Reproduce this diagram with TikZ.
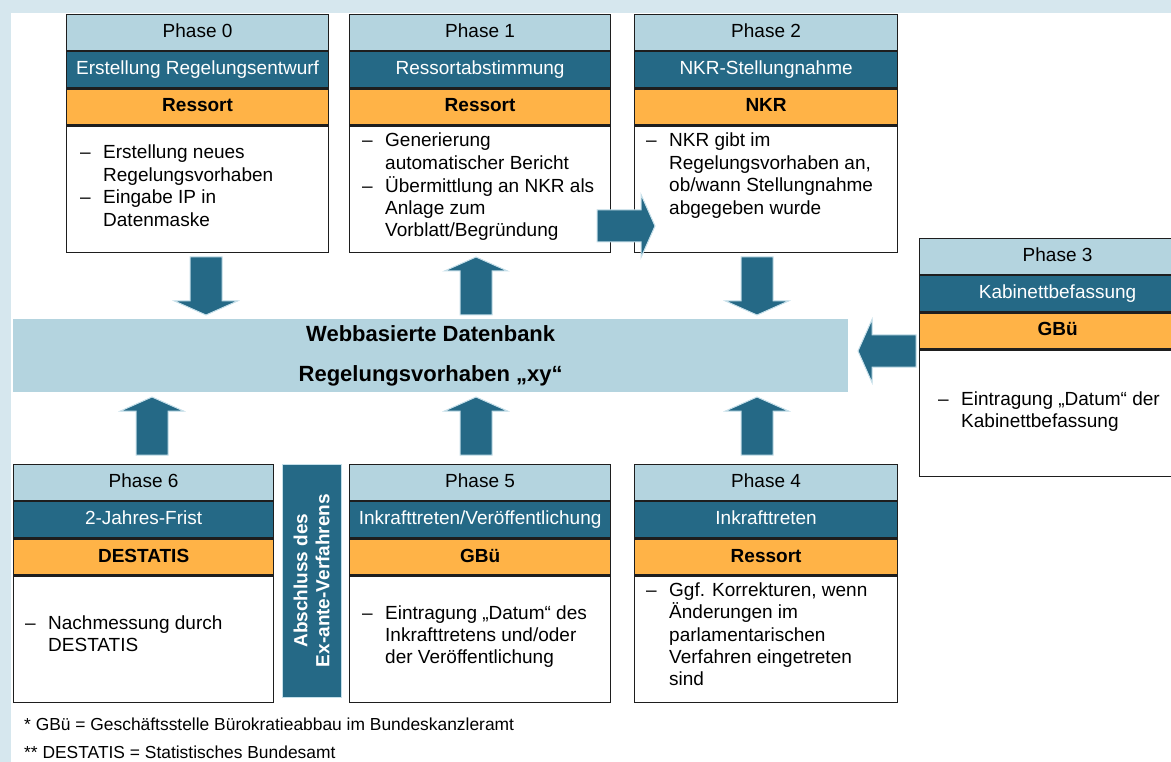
\documentclass[tikz,border=0pt]{standalone}
\usepackage{fontspec}
\setmainfont{Liberation Sans}
\definecolor{framec}{HTML}{D6E7EE}
\definecolor{hdrc}{HTML}{B4D4DF}
\definecolor{darkc}{HTML}{256986}
\definecolor{orngc}{HTML}{FFB347}
\definecolor{edgec}{HTML}{C5DFE9}
\definecolor{linec}{HTML}{1E1E1E}
\newcommand\dashitem{\makebox[23pt][l]{–}}
\newcommand\indentitem{\hspace*{23pt}}
\tikzset{
 cellbase/.style={draw=linec, line width=1.2pt, anchor=north west, inner sep=1pt, minimum height=36, text height=14, text depth=4, font=\fontsize{19}{22.4}\selectfont},
 hdrcell/.style={cellbase, fill=hdrc},
 titlecell/.style={cellbase, fill=darkc, text=white},
 rolecell/.style={cellbase, fill=orngc, font=\fontsize{19}{22.4}\selectfont\bfseries},
 bodycell/.style={draw=linec, line width=1.2pt, anchor=north west, fill=white, minimum height=126, inner sep=0},
 bodytext/.style={anchor=base west, inner sep=0, font=\fontsize{19}{22.4}\selectfont},
 blockarrow/.style={fill=darkc, draw=edgec, line width=1pt},
 footnote/.style={anchor=west, inner sep=0, font=\fontsize{17.4}{20}\selectfont},
}
\newcommand\phasebox[7]{%
 \node[hdrcell, minimum width=#4] (#1h) at (#2,#3) {#5};
 \node[titlecell, minimum width=#4] (#1t) at (#1h.south west) {#6};
 \node[rolecell, minimum width=#4] (#1r) at (#1t.south west) {#7};
 \node[bodycell, minimum width=#4] (#1b) at (#1r.south west) {};
}
\newcommand\bigarrow[3]{%
 \path[blockarrow, shift={(#1,#2)}, rotate=#3] (0,0) -- (-14,31.5) -- (-14,16) -- (-58,16) -- (-58,-16) -- (-14,-16) -- (-14,-31.5) -- cycle;}
\begin{document}
\begin{tikzpicture}[x=1pt,y=-1pt]
\useasboundingbox (0,0) rectangle (1171,762);
\clip (0,0) rectangle (1171,762);
\fill[framec] (0,0) rectangle (1171,762);
\fill[white] (11,13) rectangle (1171,762);

\phasebox{pzero}{66}{14}{262}{Phase 0}{Erstellung Regelungsentwurf}{Ressort}
\phasebox{pone}{349}{14}{261}{Phase 1}{Ressortabstimmung}{Ressort}
\phasebox{ptwo}{634}{14}{263}{Phase 2}{NKR-Stellungnahme}{NKR}
\phasebox{pthree}{919}{238}{276}{Phase 3}{Kabinettbefassung}{GBü}
\phasebox{pfour}{634}{464}{263}{Phase 4}{Inkrafttreten}{Ressort}
\phasebox{pfive}{349}{464}{261}{Phase 5}{Inkrafttreten/Veröffentlichung}{GBü}
\phasebox{psix}{13}{464}{260}{Phase 6}{2-Jahres-Frist}{DESTATIS}

\node[bodytext] (pzerox) at (80,159) {\begin{tabular}[t]{@{}l@{}}\dashitem Erstellung neues\\ \indentitem Regelungsvorhaben\\ \dashitem Eingabe IP in\\ \indentitem Datenmaske\end{tabular}};
\node[bodytext] (ponex) at (362,147) {\begin{tabular}[t]{@{}l@{}}\dashitem Generierung\\ \indentitem automatischer Bericht\\ \dashitem Übermittlung an NKR als\\ \indentitem Anlage zum\\ \indentitem Vorblatt/Begründung\end{tabular}};
\node[bodytext] (ptwox) at (646,147) {\begin{tabular}[t]{@{}l@{}}\dashitem NKR gibt im\\ \indentitem Regelungsvorhaben an,\\ \indentitem ob/wann Stellungnahme\\ \indentitem abgegeben wurde\end{tabular}};
\node[bodytext] (pthreex) at (938,405) {\begin{tabular}[t]{@{}l@{}}\dashitem Eintragung „Datum“ der\\ \indentitem Kabinettbefassung\end{tabular}};
\node[bodytext] (pfourx) at (646,596) {\begin{tabular}[t]{@{}l@{}}\dashitem Ggf. Korrekturen, wenn\\ \indentitem Änderungen im\\ \indentitem parlamentarischen\\ \indentitem Verfahren eingetreten\\ \indentitem sind\end{tabular}};
\node[bodytext] (pfivex) at (362,619) {\begin{tabular}[t]{@{}l@{}}\dashitem Eintragung „Datum“ des\\ \indentitem Inkrafttretens und/oder\\ \indentitem der Veröffentlichung\end{tabular}};
\node[bodytext] (psixx) at (25,629) {\begin{tabular}[t]{@{}l@{}}\dashitem Nachmessung durch\\ \indentitem DESTATIS\end{tabular}};

\node[fill=darkc, draw=edgec, line width=1pt, rotate=90, minimum width=233, minimum height=59, inner sep=0, text=white, align=center, font=\fontsize{19}{22}\selectfont\bfseries] (bar) at (311.5,580.5) {Abschluss des\\Ex-ante-Verfahrens};

\node[fill=hdrc, anchor=north west, minimum width=835, minimum height=73, inner sep=0, align=center, font=\fontsize{22}{40}\selectfont\bfseries] (db) at (13,319) {Webbasierte Datenbank\\Regelungsvorhaben „xy“};

\bigarrow{206}{315}{-90}
\bigarrow{476}{257}{90}
\bigarrow{757}{315}{-90}
\bigarrow{655}{226}{0}
\bigarrow{858}{351}{180}
\bigarrow{152}{397}{90}
\bigarrow{476}{397}{90}
\bigarrow{757}{397}{90}

\node[footnote] (fnone) at (24,724) {* GBü = Geschäftsstelle Bürokratieabbau im Bundeskanzleramt};
\node[footnote] (fntwo) at (24,752) {** DESTATIS = Statistisches Bundesamt};
\end{tikzpicture}
\end{document}
